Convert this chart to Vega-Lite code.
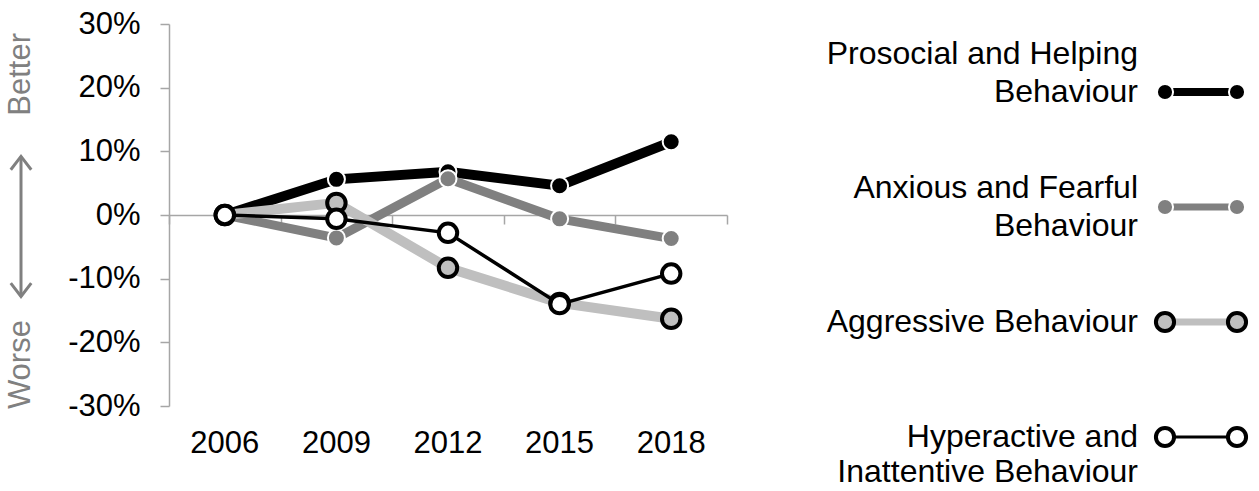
{
  "$schema": "https://vega.github.io/schema/vega-lite/v6.json",
  "background": "white",
  "padding": {"left": 0, "top": 8, "right": 0, "bottom": 0},
  "bounds": "flush",
  "spacing": 127,
  "config": {
    "font": "Liberation Sans",
    "view": {"stroke": null},
    "text": {"font": "Liberation Sans"}
  },
  "hconcat": [
    {
      "width": 42,
      "height": 382,
      "layer": [
        {
          "data": {"values": [{"label": "Better", "v": 0.221}, {"label": "Worse", "v": -0.235}]},
          "mark": {"type": "text", "angle": 270, "fontSize": 31, "color": "#808080", "baseline": "middle", "align": "center"},
          "encoding": {
            "y": {"field": "v", "type": "quantitative", "scale": {"domain": [-0.3, 0.3], "nice": false, "zero": false}, "axis": null},
            "text": {"field": "label"}
          }
        },
        {
          "data": {"values": [{"part": "arrow"}]},
          "mark": {"type": "rule", "color": "#808080", "strokeWidth": 3},
          "encoding": {
            "y": {"datum": 0.092, "type": "quantitative", "scale": {"domain": [-0.3, 0.3], "nice": false, "zero": false}, "axis": null},
            "y2": {"datum": -0.128}
          }
        },
        {
          "data": {"values": [{"part": "arrow"}]},
          "mark": {"type": "point", "shape": "M-1,1.3L0,0L1,1.3", "filled": false, "stroke": "#808080", "strokeWidth": 3, "size": 420, "opacity": 1},
          "encoding": {
            "y": {"datum": 0.092, "type": "quantitative", "scale": {"domain": [-0.3, 0.3], "nice": false, "zero": false}, "axis": null}
          }
        },
        {
          "data": {"values": [{"part": "arrow"}]},
          "mark": {"type": "point", "shape": "M-1,-1.3L0,0L1,-1.3", "filled": false, "stroke": "#808080", "strokeWidth": 3, "size": 420, "opacity": 1},
          "encoding": {
            "y": {"datum": -0.128, "type": "quantitative", "scale": {"domain": [-0.3, 0.3], "nice": false, "zero": false}, "axis": null}
          }
        }
      ]
    },
    {
      "width": 558,
      "height": 382,
      "data": {
        "values": [
          {"year": "2006", "s": "Prosocial", "v": 0},
          {"year": "2009", "s": "Prosocial", "v": 0.056},
          {"year": "2012", "s": "Prosocial", "v": 0.068},
          {"year": "2015", "s": "Prosocial", "v": 0.046},
          {"year": "2018", "s": "Prosocial", "v": 0.115},
          {"year": "2006", "s": "Anxious", "v": 0},
          {"year": "2009", "s": "Anxious", "v": -0.036},
          {"year": "2012", "s": "Anxious", "v": 0.057},
          {"year": "2015", "s": "Anxious", "v": -0.006},
          {"year": "2018", "s": "Anxious", "v": -0.037},
          {"year": "2006", "s": "Aggressive", "v": 0},
          {"year": "2009", "s": "Aggressive", "v": 0.019},
          {"year": "2012", "s": "Aggressive", "v": -0.083},
          {"year": "2015", "s": "Aggressive", "v": -0.138},
          {"year": "2018", "s": "Aggressive", "v": -0.163},
          {"year": "2006", "s": "Hyperactive", "v": 0},
          {"year": "2009", "s": "Hyperactive", "v": -0.006},
          {"year": "2012", "s": "Hyperactive", "v": -0.028},
          {"year": "2015", "s": "Hyperactive", "v": -0.14},
          {"year": "2018", "s": "Hyperactive", "v": -0.092}
        ]
      },
      "resolve": {"axis": {"x": "independent"}},
      "encoding": {
        "x": {"field": "year", "type": "ordinal", "scale": {"type": "band", "paddingInner": 0, "paddingOuter": 0}, "axis": null},
        "y": {
          "field": "v", "type": "quantitative",
          "scale": {"domain": [-0.3, 0.3], "nice": false, "zero": false},
          "axis": {
            "values": [-0.3, -0.2, -0.1, 0, 0.1, 0.2, 0.3],
            "labelExpr": "(datum.value < -0.0001 ? '-' : '') + format(abs(datum.value), '.0%')",
            "domainColor": "#a6a6a6", "domainWidth": 1.5,
            "tickColor": "#a6a6a6", "tickWidth": 1.5, "tickSize": 9,
            "labelPadding": 20, "labelFontSize": 31, "labelColor": "#000000",
            "labelFont": "Liberation Sans",
            "grid": false, "title": null
          }
        }
      },
      "layer": [
        {
          "transform": [{"filter": "datum.s === 'Prosocial'"}],
          "mark": {"type": "line", "color": "#000000", "strokeWidth": 10},
          "encoding": {
            "x": {
              "field": "year", "type": "ordinal",
              "scale": {"type": "band", "paddingInner": 0, "paddingOuter": 0},
              "axis": {
                "orient": "bottom", "offset": -191, "labels": false, "ticks": true,
                "tickBand": "extent", "tickSize": 9, "tickColor": "#a6a6a6", "tickWidth": 1.5,
                "domainColor": "#a6a6a6", "domainWidth": 1.5, "title": null, "grid": false
              }
            }
          }
        },
        {
          "transform": [{"filter": "datum.s === 'Prosocial'"}],
          "mark": {"type": "point", "filled": true, "fill": "#000000", "stroke": "#ffffff", "strokeWidth": 2, "size": 290, "opacity": 1},
          "encoding": {
            "x": {
              "field": "year", "type": "ordinal",
              "scale": {"type": "band", "paddingInner": 0, "paddingOuter": 0},
              "axis": {
                "orient": "bottom", "domain": false, "ticks": false, "tickSize": 0, "labels": true,
                "labelPadding": 22, "labelFontSize": 31, "labelColor": "#000000", "labelAngle": 0,
                "labelFont": "Liberation Sans", "title": null, "grid": false
              }
            }
          }
        },
        {
          "transform": [{"filter": "datum.s === 'Anxious'"}],
          "mark": {"type": "line", "color": "#808080", "strokeWidth": 9}
        },
        {
          "transform": [{"filter": "datum.s === 'Anxious'"}],
          "mark": {"type": "point", "filled": true, "fill": "#808080", "stroke": "#ffffff", "strokeWidth": 2, "size": 290, "opacity": 1}
        },
        {
          "transform": [{"filter": "datum.s === 'Aggressive'"}],
          "mark": {"type": "line", "color": "#bfbfbf", "strokeWidth": 10}
        },
        {
          "transform": [{"filter": "datum.s === 'Aggressive'"}],
          "mark": {"type": "point", "filled": true, "fill": "#bfbfbf", "stroke": "#000000", "strokeWidth": 4, "size": 340, "opacity": 1}
        },
        {
          "transform": [{"filter": "datum.s === 'Hyperactive'"}],
          "mark": {"type": "line", "color": "#000000", "strokeWidth": 3.5}
        },
        {
          "transform": [{"filter": "datum.s === 'Hyperactive'"}],
          "mark": {"type": "point", "filled": true, "fill": "#ffffff", "stroke": "#000000", "strokeWidth": 4, "size": 340, "opacity": 1}
        }
      ]
    },
    {
      "width": 395,
      "height": 382,
      "data": {
        "values": [
          {"s": "Prosocial", "label": "Prosocial and Helping\nBehaviour"},
          {"s": "Anxious", "label": "Anxious and Fearful\nBehaviour"},
          {"s": "Aggressive", "label": "Aggressive Behaviour"},
          {"s": "Hyperactive", "label": "Hyperactive and\nInattentive Behaviour"}
        ]
      },
      "encoding": {
        "y": {"field": "s", "type": "nominal", "scale": {"type": "point", "padding": 0, "domain": ["Prosocial", "Anxious", "Aggressive", "Hyperactive"], "range": [68, 413]}, "axis": null}
      },
      "layer": [
        {
          "transform": [{"filter": "datum.s === 'Prosocial'"}],
          "mark": {"type": "text", "align": "right", "baseline": "middle", "dx": -27, "dy": -38, "fontSize": 32, "lineBreak": "\n", "lineHeight": 38, "color": "#000000"},
          "encoding": {"x": {"datum": 0, "type": "quantitative", "scale": {"domain": [0, 1], "range": [311, 383]}, "axis": null}, "text": {"field": "label"}}
        },
        {
          "transform": [{"filter": "datum.s === 'Anxious'"}],
          "mark": {"type": "text", "align": "right", "baseline": "middle", "dx": -27, "dy": -19, "fontSize": 32, "lineBreak": "\n", "lineHeight": 38, "color": "#000000"},
          "encoding": {"x": {"datum": 0, "type": "quantitative", "scale": {"domain": [0, 1], "range": [311, 383]}, "axis": null}, "text": {"field": "label"}}
        },
        {
          "transform": [{"filter": "datum.s === 'Aggressive'"}],
          "mark": {"type": "text", "align": "right", "baseline": "middle", "dx": -27, "fontSize": 32, "color": "#000000"},
          "encoding": {"x": {"datum": 0, "type": "quantitative", "scale": {"domain": [0, 1], "range": [311, 383]}, "axis": null}, "text": {"field": "label"}}
        },
        {
          "transform": [{"filter": "datum.s === 'Hyperactive'"}],
          "mark": {"type": "text", "align": "right", "baseline": "middle", "dx": -27, "fontSize": 32, "lineBreak": "\n", "lineHeight": 35, "color": "#000000"},
          "encoding": {"x": {"datum": 0, "type": "quantitative", "scale": {"domain": [0, 1], "range": [311, 383]}, "axis": null}, "text": {"field": "label"}}
        },
        {
          "transform": [{"filter": "datum.s === 'Prosocial'"}],
          "mark": {"type": "rule", "color": "#000000", "strokeWidth": 8},
          "encoding": {"x": {"datum": 0, "type": "quantitative", "scale": {"domain": [0, 1], "range": [311, 383]}, "axis": null}, "x2": {"datum": 1}}
        },
        {
          "transform": [{"filter": "datum.s === 'Prosocial'"}],
          "mark": {"type": "point", "filled": true, "fill": "#000000", "stroke": "#ffffff", "strokeWidth": 2, "size": 260, "opacity": 1},
          "encoding": {"x": {"datum": 0, "type": "quantitative", "scale": {"domain": [0, 1], "range": [311, 383]}, "axis": null}}
        },
        {
          "transform": [{"filter": "datum.s === 'Prosocial'"}],
          "mark": {"type": "point", "filled": true, "fill": "#000000", "stroke": "#ffffff", "strokeWidth": 2, "size": 260, "opacity": 1},
          "encoding": {"x": {"datum": 1, "type": "quantitative", "scale": {"domain": [0, 1], "range": [311, 383]}, "axis": null}}
        },
        {
          "transform": [{"filter": "datum.s === 'Anxious'"}],
          "mark": {"type": "rule", "color": "#808080", "strokeWidth": 7},
          "encoding": {"x": {"datum": 0, "type": "quantitative", "scale": {"domain": [0, 1], "range": [311, 383]}, "axis": null}, "x2": {"datum": 1}}
        },
        {
          "transform": [{"filter": "datum.s === 'Anxious'"}],
          "mark": {"type": "point", "filled": true, "fill": "#808080", "stroke": "#ffffff", "strokeWidth": 2, "size": 260, "opacity": 1},
          "encoding": {"x": {"datum": 0, "type": "quantitative", "scale": {"domain": [0, 1], "range": [311, 383]}, "axis": null}}
        },
        {
          "transform": [{"filter": "datum.s === 'Anxious'"}],
          "mark": {"type": "point", "filled": true, "fill": "#808080", "stroke": "#ffffff", "strokeWidth": 2, "size": 260, "opacity": 1},
          "encoding": {"x": {"datum": 1, "type": "quantitative", "scale": {"domain": [0, 1], "range": [311, 383]}, "axis": null}}
        },
        {
          "transform": [{"filter": "datum.s === 'Aggressive'"}],
          "mark": {"type": "rule", "color": "#bfbfbf", "strokeWidth": 7},
          "encoding": {"x": {"datum": 0, "type": "quantitative", "scale": {"domain": [0, 1], "range": [311, 383]}, "axis": null}, "x2": {"datum": 1}}
        },
        {
          "transform": [{"filter": "datum.s === 'Aggressive'"}],
          "mark": {"type": "point", "filled": true, "fill": "#bfbfbf", "stroke": "#000000", "strokeWidth": 4, "size": 330, "opacity": 1},
          "encoding": {"x": {"datum": 0, "type": "quantitative", "scale": {"domain": [0, 1], "range": [311, 383]}, "axis": null}}
        },
        {
          "transform": [{"filter": "datum.s === 'Aggressive'"}],
          "mark": {"type": "point", "filled": true, "fill": "#bfbfbf", "stroke": "#000000", "strokeWidth": 4, "size": 330, "opacity": 1},
          "encoding": {"x": {"datum": 1, "type": "quantitative", "scale": {"domain": [0, 1], "range": [311, 383]}, "axis": null}}
        },
        {
          "transform": [{"filter": "datum.s === 'Hyperactive'"}],
          "mark": {"type": "rule", "color": "#000000", "strokeWidth": 3},
          "encoding": {"x": {"datum": 0, "type": "quantitative", "scale": {"domain": [0, 1], "range": [311, 383]}, "axis": null}, "x2": {"datum": 1}}
        },
        {
          "transform": [{"filter": "datum.s === 'Hyperactive'"}],
          "mark": {"type": "point", "filled": true, "fill": "#ffffff", "stroke": "#000000", "strokeWidth": 4, "size": 330, "opacity": 1},
          "encoding": {"x": {"datum": 0, "type": "quantitative", "scale": {"domain": [0, 1], "range": [311, 383]}, "axis": null}}
        },
        {
          "transform": [{"filter": "datum.s === 'Hyperactive'"}],
          "mark": {"type": "point", "filled": true, "fill": "#ffffff", "stroke": "#000000", "strokeWidth": 4, "size": 330, "opacity": 1},
          "encoding": {"x": {"datum": 1, "type": "quantitative", "scale": {"domain": [0, 1], "range": [311, 383]}, "axis": null}}
        }
      ]
    }
  ]
}
